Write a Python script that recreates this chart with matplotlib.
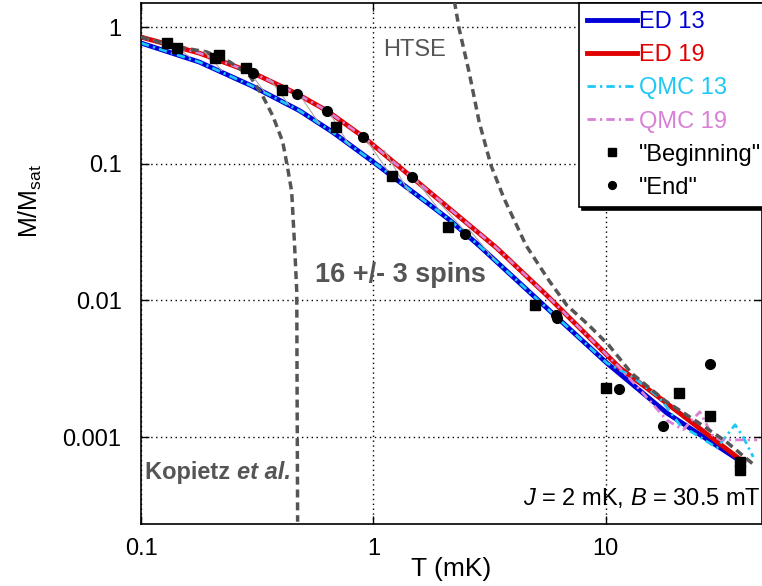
import numpy as np
import matplotlib
matplotlib.use('Agg')
import matplotlib.pyplot as plt

plt.rcParams['font.family'] = ['Liberation Sans', 'DejaVu Sans']
plt.rcParams['mathtext.fontset'] = 'custom'
plt.rcParams['mathtext.rm'] = 'Liberation Sans'
plt.rcParams['mathtext.it'] = 'Liberation Sans:italic'
plt.rcParams['mathtext.bf'] = 'Liberation Sans:bold'

# exact diagonalisation, 13 and 19 spins
ed13_T = [0.1, 0.178, 0.301, 0.480, 0.665, 0.991, 1.80, 2.13, 2.86, 5.57, 10.1, 18.3, 39.0]
ed13_M = [0.764, 0.555, 0.370, 0.245, 0.171, 0.104, 0.0482, 0.0387, 0.025, 0.0088, 0.00348, 0.0015, 0.000647]
ed19_T = [0.1, 0.178, 0.304, 0.470, 0.634, 0.906, 1.46, 3.39, 5.57, 11.5, 16.0, 39.0]
ed19_M = [0.845, 0.645, 0.461, 0.324, 0.243, 0.157, 0.0799, 0.0242, 0.0109, 0.0032, 0.0021, 0.00066]

# quantum Monte Carlo
qmc13_T = [0.1, 0.178, 0.301, 0.480, 0.665, 0.991, 1.80, 2.13, 2.86, 5.57, 10.1, 13.1, 17.1, 20.8, 25.4, 30.1, 36.0, 39.0, 43.1]
qmc13_M = [0.764, 0.555, 0.370, 0.245, 0.171, 0.104, 0.0482, 0.0387, 0.025, 0.0088, 0.00348, 0.00275, 0.00193, 0.00123, 0.0010, 0.000832, 0.00123, 0.0010, 0.000715]
qmc19_T = [0.1, 0.178, 0.304, 0.470, 0.634, 0.906, 1.46, 3.39, 5.57, 11.5, 14.7, 18.3, 21.5, 25.4, 28.6, 31.0, 44.8]
qmc19_M = [0.845, 0.645, 0.461, 0.324, 0.243, 0.157, 0.0799, 0.0242, 0.0109, 0.0032, 0.00203, 0.00133, 0.00113, 0.00153, 0.00104, 0.000953, 0.000953]

# high temperature series expansion
htse_T = [2.23, 2.34, 2.58, 2.85, 3.21, 3.65, 4.54, 5.69, 6.80, 8.46, 10.3, 12.9, 18.1, 25.1, 32.7, 44.0]
htse_M = [1.55, 0.967, 0.469, 0.203, 0.0966, 0.0556, 0.0252, 0.014, 0.0092, 0.00657, 0.0047, 0.00293, 0.00183, 0.00127, 0.000935, 0.000614]

# Kopietz et al.
kop_T = [0.1, 0.137, 0.192, 0.241, 0.294, 0.334, 0.369, 0.407, 0.428, 0.445, 0.458, 0.468, 0.469, 0.472]
kop_M = [0.845, 0.727, 0.657, 0.556, 0.439, 0.313, 0.224, 0.145, 0.092, 0.0625, 0.0252, 0.0116, 0.00377, 0.00024]

# measurements
beg_T = [0.129, 0.143, 0.208, 0.217, 0.284, 0.405, 0.693, 1.20, 2.10, 4.94, 10.0, 20.6, 28.1, 37.8, 37.8]
beg_M = [0.764, 0.702, 0.593, 0.624, 0.501, 0.346, 0.186, 0.0813, 0.0344, 0.00925, 0.00229, 0.0021, 0.00143, 0.000657, 0.000574]
end_T = [0.304, 0.470, 0.634, 0.906, 1.46, 2.47, 6.08, 6.15, 11.4, 17.6, 28.1]
end_M = [0.461, 0.324, 0.243, 0.157, 0.0799, 0.0306, 0.00782, 0.00744, 0.00225, 0.00121, 0.00343]

# thin guide lines between the two curves
seg_T1 = [0.140, 0.188, 0.285, 0.358, 0.481, 0.648, 0.915, 1.115, 1.46, 1.92, 2.58]
seg_M1 = [0.727, 0.657, 0.501, 0.417, 0.319, 0.235, 0.157, 0.125, 0.0830, 0.0520, 0.0330]
seg_T2 = [0.162, 0.223, 0.340, 0.436, 0.586, 0.789, 1.19, 1.43, 1.92, 2.46, 3.31]
seg_M2 = [0.604, 0.480, 0.335, 0.266, 0.196, 0.136, 0.0820, 0.0610, 0.0460, 0.0325, 0.0200]

blue = '#0000d8'
red = '#e00000'
cyan = '#1ec8f5'
pink = '#d980d6'
dgray = '#555555'

fig = plt.figure(figsize=(7.62, 5.86), dpi=100)
ax = fig.add_axes([141/762, 62/586, 621/762, 521/586])

l1, = ax.plot(ed13_T, ed13_M, color=blue, lw=3.5, label='ED 13', zorder=2)
l2, = ax.plot(ed19_T, ed19_M, color=red, lw=3.5, label='ED 19', zorder=2)
l3, = ax.plot(qmc13_T, qmc13_M, color=cyan, lw=2, ls=(0, (3, 1.5, 0.8, 1.5)), label='QMC 13', zorder=2.5)
l4, = ax.plot(qmc19_T, qmc19_M, color=pink, lw=2, ls=(0, (3, 1.5, 0.8, 1.5)), label='QMC 19', zorder=2.5)

ax.plot(htse_T, htse_M, color=dgray, lw=2.5, ls=(0, (2.3, 1.4)), zorder=3)
ax.plot(kop_T, kop_M, color=dgray, lw=2.5, ls=(0, (2.3, 1.4)), zorder=3)

for i in range(len(seg_T1)):
    ax.plot([seg_T1[i], seg_T2[i]], [seg_M1[i], seg_M2[i]], color='#a8a8a8', lw=0.8, zorder=3.2)

l5, = ax.plot(beg_T, beg_M, 's', color='k', ms=7.5, label='"Beginning"', zorder=4)
l6, = ax.plot(end_T, end_M, 'o', color='k', ms=7, label='"End"', zorder=4)

ax.set_xscale('log')
ax.set_yscale('log')
ax.set_xlim(0.1, 47)
ax.set_ylim(2.31e-4, 1.5)
ax.set_xticks([0.1, 1, 10])
ax.set_xticklabels(['0.1', '1', '10'])
ax.set_yticks([0.001, 0.01, 0.1, 1])
ax.set_yticklabels(['0.001', '0.01', '0.1', '1'])
ax.minorticks_off()
ax.tick_params(direction='in', length=6, width=1, labelsize=17, top=True, right=True)
ax.tick_params(axis='y', pad=14)
ax.tick_params(axis='x', pad=10)
ax.grid(True, which='major', color='k', ls=(0, (1, 2.5)), lw=1)
for s in ax.spines.values():
    s.set_linewidth(1.2)

ax.set_xlabel('T (mK)', fontsize=19, labelpad=-2)
ax.set_ylabel(r'M/M$_{\rm sat}$', fontsize=18)
ax.yaxis.set_label_coords(-0.156, 0.62)

ax.text(1.50, 0.679, 'HTSE', color=dgray, fontsize=17, ha='center', va='center')
ax.text(0.562, 0.0153, '16 +/- 3 spins', color=dgray, fontsize=19.5, fontweight='bold', ha='left', va='center')
t1 = ax.text(0.104, 0.000546, 'Kopietz ', color=dgray, fontsize=17, fontweight='bold', ha='left', va='center')
ax.annotate('et al.', xy=(1, 0), xycoords=t1, color=dgray, fontsize=17, fontweight='bold',
            fontstyle='italic', ha='left', va='bottom')
ax.text(0.998, 0.000359, r'$J$ = 2 mK, $B$ = 30.5 mT', transform=ax.get_yaxis_transform(),
        fontsize=17, ha='right', va='center')

leg = ax.legend(handles=[l1, l2, l3, l4, l5, l6], loc='upper right', bbox_to_anchor=(1.012, 1.0),
                borderaxespad=0, fontsize=17, labelcolor='linecolor', fancybox=False,
                shadow={'color': 'k', 'alpha': 1}, handlelength=2.1, handletextpad=0.1,
                labelspacing=0.47, markerscale=0.8, framealpha=1, borderpad=0.35)
leg.get_frame().set_edgecolor('k')
leg.get_frame().set_linewidth(1.2)
leg.set_zorder(10)

fig.savefig('out.png', dpi=100)
